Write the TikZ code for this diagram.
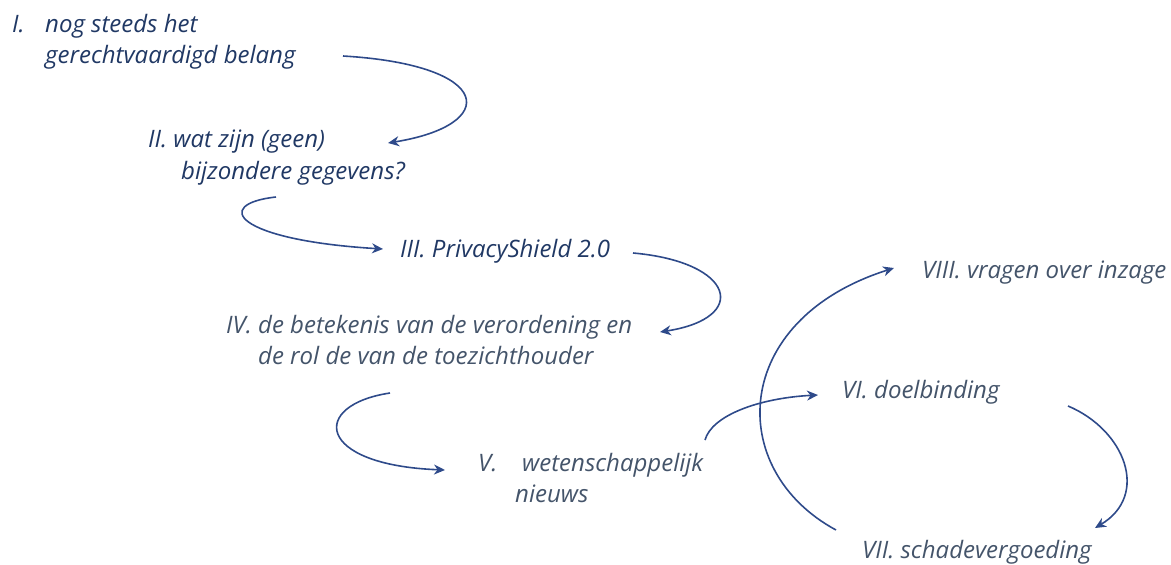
\documentclass[tikz,border=0pt]{standalone}
\usepackage{fontspec}
\setmainfont{Open Sans}
\usetikzlibrary{arrows.meta}
\definecolor{navytext}{HTML}{203864}
\definecolor{slatetext}{HTML}{44546A}
\definecolor{arrowblue}{HTML}{2E4A8A}
\tikzset{
  lbl/.style={anchor=base west, inner sep=0pt, font=\fontsize{24}{28}\selectfont\itshape},
  dark/.style={lbl, text=navytext},
  slate/.style={lbl, text=slatetext},
  conn/.style={draw=arrowblue, line width=1.6pt, -{Stealth[length=11pt,width=10pt,inset=3.5pt]}}
}
\begin{document}
\begin{tikzpicture}[x=1pt,y=-1pt]
\useasboundingbox (0,0) rectangle (1171,565);
% texts
\node[dark] (n1num) at (12,32) {I.};
\node[dark] (n1a) at (45,32) {nog steeds het};
\node[dark] (n1b) at (45,63) {gerechtvaardigd belang};
\node[dark] (n2a) at (148,147) {II. wat zijn (geen)};
\node[dark] (n2b) at (181,179) {bijzondere gegevens?};
\node[dark] (n3) at (400,257) {III. PrivacyShield 2.0};
\node[slate] (n4a) at (226,333) {IV. de betekenis van de verordening en};
\node[slate] (n4b) at (258,364) {de rol de van de toezichthouder};
\node[slate] (n5num) at (478,471) {V.};
\node[slate] (n5a) at (522,471) {wetenschappelijk};
\node[slate] (n5b) at (515,502) {nieuws};
\node[slate] (n6) at (842,398) {VI. doelbinding};
\node[slate] (n7) at (862,558) {VII. schadevergoeding};
\node[slate] (n8) at (922,278) {VIII. vragen over inzage};
% connector end points
\coordinate (a1s) at (343,56);  \coordinate (a1e) at (388,143);
\coordinate (a2s) at (276,197); \coordinate (a2e) at (383,249);
\coordinate (a3s) at (633,253); \coordinate (a3e) at (660,332);
\coordinate (a4s) at (390,393); \coordinate (a4e) at (445,470);
\coordinate (a5s) at (705,440); \coordinate (a5e) at (818,395);
\coordinate (a6s) at (836,530); \coordinate (a6e) at (894,268);
\coordinate (a7s) at (1068,406); \coordinate (a7e) at (1095,528);
% connectors
\draw[conn] (a1s) .. controls (495,65) and (500,125) .. (a1e);
\draw[conn] (a2s) .. controls (212,204) and (234,240) .. (a2e);
\draw[conn] (a3s) .. controls (735,262) and (750,318) .. (a3e);
\draw[conn] (a4s) .. controls (310,405) and (315,465) .. (a4e);
\draw[conn] (a5s) .. controls (712,415) and (760,398) .. (a5e);
\draw[conn] (a6s) .. controls (725,470) and (730,320) .. (a6e);
\draw[conn] (a7s) .. controls (1125,430) and (1150,495) .. (a7e);
\end{tikzpicture}
\end{document}
